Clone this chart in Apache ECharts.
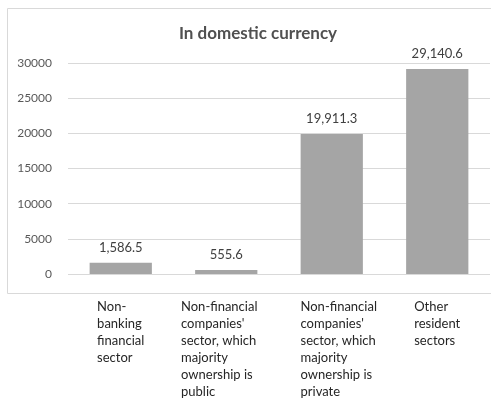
<!DOCTYPE html>
<html><head><meta charset="utf-8">
<script src="https://cdn.jsdelivr.net/npm/echarts@6/dist/echarts.min.js"></script>
<style>html,body{margin:0;padding:0;background:#fff}#c{width:491px;height:407px}</style>
</head><body><div id="c"></div>
<script>
var titleText = 'In domestic currency';
var categories = [
  'Non-\nbanking\nfinancial\nsector',
  "Non-financial\ncompanies'\nsector, which\nmajority\nownership is\npublic",
  "Non-financial\ncompanies'\nsector, which\nmajority\nownership is\nprivate",
  'Other\nresident\nsectors'
];
var values = [1586.5, 555.6, 19911.3, 29140.6];
var yTicks = [0, 5000, 10000, 15000, 20000, 25000, 30000];

var FONT = 'Lato, "Open Sans", sans-serif';
var labelStyles = ['t', 'r', 'l', 't'];
var chart = echarts.init(document.getElementById('c'), null, {renderer: 'canvas'});
function fmt(v) {
  return v.toLocaleString('en-US', {minimumFractionDigits: 1, maximumFractionDigits: 1});
}
var base = {fontFamily: FONT, fontSize: 13, lineHeight: 17, color: '#262626', align: 'left'};
chart.setOption({
  animation: false,
  title: {
    text: titleText, left: 253, top: 20, textAlign: 'center',
    textStyle: {fontFamily: FONT, fontSize: 17, fontWeight: 'bold', color: '#505050'}
  },
  graphic: [{
    type: 'rect', shape: {x: 7.5, y: 8.5, width: 490, height: 285},
    style: {fill: 'none', stroke: '#d9d9d9', lineWidth: 1}, z: -1
  }],
  grid: {left: 68, right: 1, top: 63, bottom: 133},
  xAxis: {
    type: 'category', data: categories,
    axisLine: {show: false}, axisTick: {show: false},
    axisLabel: {
      margin: 24, interval: 0, align: 'center', verticalAlign: 'top',
      formatter: function (v, i) {
        var s = labelStyles[i];
        return '{' + s + '|' + v.split('\n').join('}\n{' + s + '|') + '}';
      },
      rich: {
        t: base,
        r: Object.assign({}, base, {padding: [0, 14, 0, 0]}),
        l: Object.assign({}, base, {padding: [0, 0, 0, 14]})
      }
    }
  },
  yAxis: {
    type: 'value', min: 0, max: 30000, interval: 5000,
    axisLine: {show: false}, axisTick: {show: false},
    splitLine: {lineStyle: {color: '#d9d9d9'}},
    axisLabel: {margin: 16, fontFamily: FONT, fontSize: 12, color: '#595959',
      formatter: function (v) { return yTicks.indexOf(v) >= 0 ? String(v) : ''; }}
  },
  series: [{
    type: 'bar', data: values, barWidth: '59%',
    itemStyle: {color: '#a5a5a5'},
    label: {show: true, position: 'top', distance: 9, fontFamily: FONT, fontSize: 13, color: '#404040',
      formatter: function (p) { return fmt(p.value); }}
  }]
});
</script></body></html>
